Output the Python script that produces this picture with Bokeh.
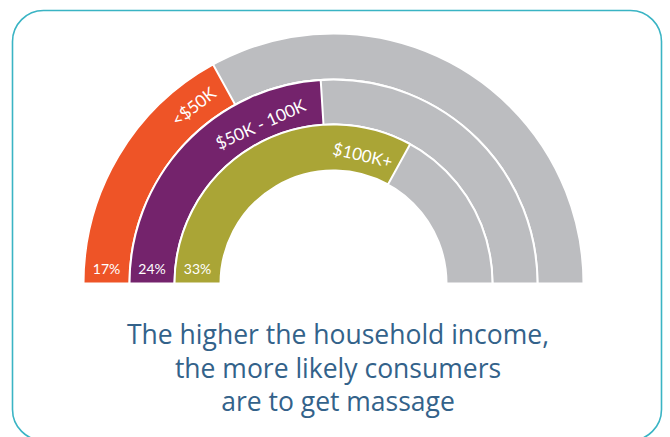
import math
from bokeh.plotting import figure
from bokeh.models import Range1d, BoxAnnotation, ColumnDataSource
from bokeh.core.properties import value
from bokeh.embed import file_html
from bokeh.resources import INLINE

# ---- data ----
categories = ["<$50K", "$50K - 100K", "$100K+"]
percentages = [17, 24, 33]
pct_labels = ["17%", "24%", "33%"]
title_lines = ["The higher the household income,",
               "the more likely consumers",
               "are to get massage"]

# ---- styling / layout ----
colors = ["#EE5427", "#74236C", "#AAA536"]
gray = "#BCBDC0"
text_blue = "#33628A"
frame_color = "#3AB4C4"
outer_r = [250, 204, 159]
inner_r = [204, 159, 113]
label_offset_deg = [9.5, 21, 16]
label_r_adj = [-1, -6, -4]

p = figure(width=670, height=437, x_range=Range1d(-333, 337), y_range=Range1d(-154, 283),
           output_backend="svg", toolbar_location=None, min_border=0)
p.axis.visible = False
p.grid.visible = False
p.outline_line_color = None
p.background_fill_color = "white"
p.border_fill_color = "white"

frame = BoxAnnotation(left=12 - 333, right=661 - 333, top=283 - 10, bottom=283 - 440,
                      fill_color=None, fill_alpha=0, line_color=frame_color, line_alpha=1,
                      line_width=1.6, border_radius=31)
p.add_layout(frame)

n = len(categories)
start = [math.pi - pc / 100 * 2 * math.pi for pc in percentages]
src_bg = ColumnDataSource(dict(ir=inner_r, orr=outer_r))
p.annular_wedge(x=0, y=0, inner_radius="ir", outer_radius="orr", start_angle=0, end_angle=math.pi,
                fill_color=gray, line_color="white", line_width=2, source=src_bg)
src = ColumnDataSource(dict(ir=inner_r, orr=outer_r, sa=start, ea=[math.pi] * n, c=colors))
p.annular_wedge(x=0, y=0, inner_radius="ir", outer_radius="orr", start_angle="sa", end_angle="ea",
                fill_color="c", line_color="white", line_width=2, source=src)

# category labels along arcs
lx, ly, la = [], [], []
for i in range(n):
    th = math.radians(180 - percentages[i] * 3.6 + label_offset_deg[i])
    r = (inner_r[i] + outer_r[i]) / 2 + label_r_adj[i]
    lx.append(r * math.cos(th))
    ly.append(r * math.sin(th))
    la.append(th - math.pi / 2)
p.text(x=lx, y=ly, text=categories, angle=la, text_align="center", text_baseline="middle",
       text_color="white", text_font=value("Lato"), text_font_size="17px")

# percentage labels
px = [-(inner_r[i] + outer_r[i]) / 2 for i in range(n)]
p.text(x=px, y=[15] * n, text=pct_labels, text_align="center", text_baseline="middle",
       text_color="white", text_font=value("Lato"), text_font_size="14px")

# title
p.text(x=[4.5] * 3, y=[-50, -84, -117], text=title_lines, text_align="center",
       text_baseline="middle", text_color=text_blue, text_font=value("Open Sans"),
       text_font_size="26.5px")

open("out.html", "w").write(file_html(p, INLINE))
